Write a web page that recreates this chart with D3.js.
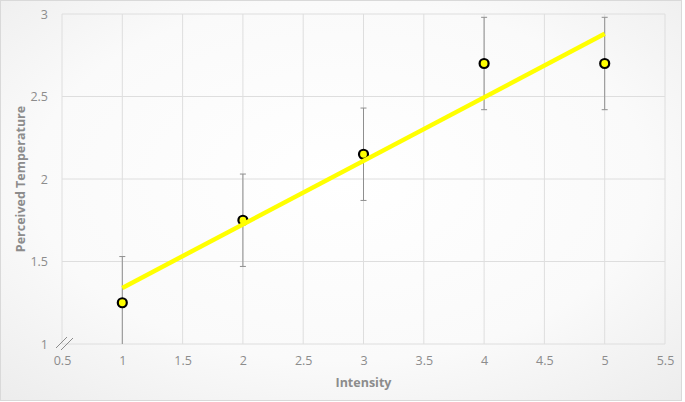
<!DOCTYPE html>
<html>
<head>
<meta charset="utf-8">
<script src="https://cdn.jsdelivr.net/npm/d3@7"></script>
<style>
  body { margin: 0; background: #fff; }
  svg { display: block; font-family: "Open Sans", "Noto Sans", sans-serif; }
</style>
</head>
<body>
<svg id="chart" width="685" height="402"></svg>
<script>
// data
var intensity = [1, 2, 3, 4, 5];
var perceived = [1.25, 1.75, 2.15, 2.7, 2.7];
var errorBar = [0.28, 0.28, 0.28, 0.28, 0.28];
var xTicks = [0.5, 1, 1.5, 2, 2.5, 3, 3.5, 4, 4.5, 5, 5.5];
var yTicks = [1, 1.5, 2, 2.5, 3];

var svgWidth = 685, svgHeight = 402;
var margin = { top: 14, right: 20, bottom: 58, left: 62 };
var width = 665 - margin.left;
var height = 344 - margin.top;

var x = d3.scaleLinear().domain([0.5, 5.5]).range([0, width]);
var y = d3.scaleLinear().domain([1, 3]).range([height, 0]);

var svg = d3.select("#chart");

// background with soft vignette like the original
var defs = svg.append("defs");
var grad = defs.append("radialGradient").attr("id", "bg")
    .attr("cx", "50%").attr("cy", "45%").attr("r", "75%");
grad.append("stop").attr("offset", "0%").attr("stop-color", "#ffffff");
grad.append("stop").attr("offset", "60%").attr("stop-color", "#fafafa");
grad.append("stop").attr("offset", "100%").attr("stop-color", "#ececec");

svg.append("rect")
    .attr("x", 0.5).attr("y", 0.5)
    .attr("width", svgWidth - 4).attr("height", svgHeight - 2)
    .attr("fill", "url(#bg)")
    .attr("stroke", "#d9d9d9");

defs.append("clipPath").attr("id", "clip")
  .append("rect").attr("width", width).attr("height", height);

var g = svg.append("g").attr("transform", "translate(" + margin.left + "," + margin.top + ")");

// grid
g.append("g").selectAll("line.v")
    .data(xTicks)
    .enter().append("line")
    .attr("x1", function (d) { return x(d); })
    .attr("x2", function (d) { return x(d); })
    .attr("y1", 0).attr("y2", height)
    .attr("stroke", "#dedede").attr("stroke-width", 1);

g.append("g").selectAll("line.h")
    .data(yTicks)
    .enter().append("line")
    .attr("x1", 0).attr("x2", width)
    .attr("y1", function (d) { return y(d); })
    .attr("y2", function (d) { return y(d); })
    .attr("stroke", "#dedede").attr("stroke-width", 1);

// axes (labels only)
var xAxis = g.append("g")
    .attr("transform", "translate(0," + height + ")")
    .call(d3.axisBottom(x).tickValues(xTicks).tickSize(0).tickPadding(12).tickFormat(d3.format("")));
var yAxis = g.append("g")
    .call(d3.axisLeft(y).tickValues(yTicks).tickSize(0).tickPadding(14).tickFormat(d3.format("")));

[xAxis, yAxis].forEach(function (a) {
    a.select(".domain").remove();
    a.selectAll("text")
        .attr("fill", "#8c8c8c")
        .style("font-size", "12.5px")
        .style("font-family", "'Open Sans', sans-serif");
});

// axis break marks at the bottom of the value axis
var brk = g.append("g")
    .attr("transform", "translate(0," + y(1) + ")")
    .attr("stroke", "#8c8c8c").attr("stroke-width", 1);
brk.append("line").attr("x1", -6).attr("y1", 4).attr("x2", 5).attr("y2", -7);
brk.append("line").attr("x1", -1).attr("y1", 6).attr("x2", 11).attr("y2", -6);

// error bars
var eb = g.append("g").attr("clip-path", "url(#clip)")
    .attr("stroke", "#8f8f8f").attr("stroke-width", 1);
intensity.forEach(function (d, i) {
    var top = perceived[i] + errorBar[i], bot = perceived[i] - errorBar[i];
    eb.append("line")
        .attr("x1", x(d)).attr("x2", x(d))
        .attr("y1", y(top)).attr("y2", y(bot));
    [top, bot].forEach(function (v) {
        eb.append("line")
            .attr("x1", x(d) - 3).attr("x2", x(d) + 3)
            .attr("y1", y(v)).attr("y2", y(v));
    });
});

// points
g.append("g").selectAll("circle")
    .data(intensity)
    .enter().append("circle")
    .attr("cx", function (d) { return x(d); })
    .attr("cy", function (d, i) { return y(perceived[i]); })
    .attr("r", 4.5)
    .attr("fill", "#ffff00")
    .attr("stroke", "#000")
    .attr("stroke-width", 2.2);

// linear trendline (least squares through the points)
var mx = d3.mean(intensity), my = d3.mean(perceived);
var sxy = d3.sum(intensity, function (d, i) { return (d - mx) * (perceived[i] - my); });
var sxx = d3.sum(intensity, function (d) { return (d - mx) * (d - mx); });
var slope = sxy / sxx, icpt = my - slope * mx;
var xr = d3.extent(intensity);

g.append("path")
    .datum(xr)
    .attr("d", d3.line()
        .x(function (d) { return x(d); })
        .y(function (d) { return y(icpt + slope * d); }))
    .attr("stroke", "#ffff00")
    .attr("stroke-width", 4.5)
    .attr("fill", "none");

// axis titles
svg.append("text")
    .attr("x", margin.left + x(3)).attr("y", 387)
    .attr("text-anchor", "middle")
    .attr("fill", "#8c8c8c")
    .style("font-size", "12.5px").style("font-weight", "bold")
    .text("Intensity");

svg.append("text")
    .attr("transform", "translate(25," + (margin.top + y(2)) + ") rotate(-90)")
    .attr("text-anchor", "middle")
    .attr("fill", "#8c8c8c")
    .style("font-size", "12.5px").style("font-weight", "bold")
    .text("Perceived Temperature");
</script>
</body>
</html>
